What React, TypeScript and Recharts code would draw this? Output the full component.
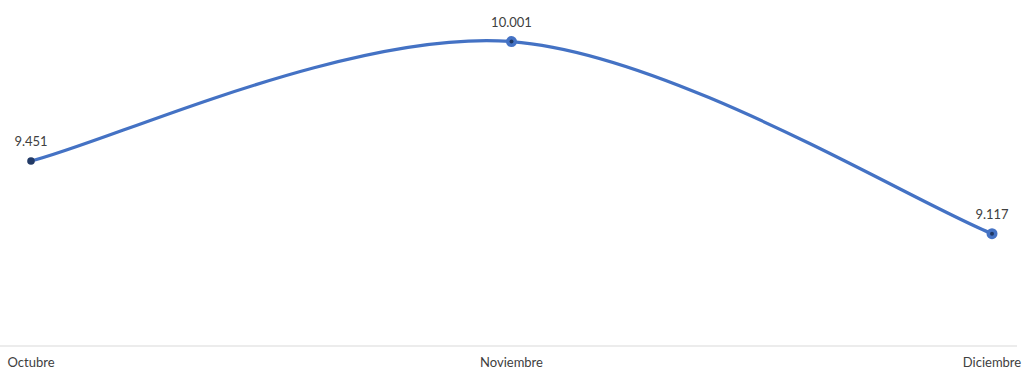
import React from 'react';
import { LineChart, Line, XAxis, YAxis, LabelList } from 'recharts';

const months = ['Octubre', 'Noviembre', 'Diciembre'];
const values = [9.451, 10.001, 9.117];
const valueLabels = ['9.451', '10.001', '9.117'];

const data = months.map((m, i) => ({ month: m, value: values[i], label: valueLabels[i] }));

const BLUE = '#4472C4';
const DARK = '#1F3864';

// Excel-like smoothed line (Catmull-Rom style Bezier, endpoints duplicated)
const excelCurve = (context: any) => {
  let pts: number[][] = [];
  return {
    areaStart() {},
    areaEnd() {},
    lineStart() {
      pts = [];
    },
    point(x: number, y: number) {
      pts.push([+x, +y]);
    },
    lineEnd() {
      const n = pts.length;
      if (!n) return;
      context.moveTo(pts[0][0], pts[0][1]);
      for (let i = 0; i < n - 1; i++) {
        const p0 = pts[Math.max(i - 1, 0)];
        const p1 = pts[i];
        const p2 = pts[i + 1];
        const p3 = pts[Math.min(i + 2, n - 1)];
        const c1x = p1[0] + (p2[0] - p0[0]) / 6;
        const c1y = p1[1] + (p2[1] - p0[1]) / 6;
        const c2x = p2[0] - (p3[0] - p1[0]) / 6;
        const c2y = p2[1] - (p3[1] - p1[1]) / 6;
        context.bezierCurveTo(c1x, c1y, c2x, c2y, p2[0], p2[1]);
      }
    },
  };
};

const Dot = (props: any) => {
  const { cx, cy, index } = props;
  if (cx == null || cy == null) return null;
  if (index === 0) {
    return <circle cx={cx} cy={cy} r={3.8} fill="#223A66" stroke="none" />;
  }
  return (
    <g>
      <circle cx={cx} cy={cy} r={5.5} fill={BLUE} stroke="none" />
      <circle cx={cx} cy={cy} r={2} fill={DARK} stroke="none" />
    </g>
  );
};

const ValueLabel = (props: any) => {
  const { x, y, value } = props;
  return (
    <text x={x} y={y - 15} textAnchor="middle" fontSize={13} fill="#404040" fontFamily="Lato, 'Open Sans', sans-serif">
      {value}
    </text>
  );
};

export default function App() {
  return (
    <div style={{ position: 'absolute', left: 0, top: 0, width: 1025, height: 371, background: '#fff' }}>
      <LineChart width={1025} height={371} data={data} margin={{ top: 7, right: 8, bottom: 0, left: 0 }}>
        <XAxis
          dataKey="month"
          height={25}
          padding={{ left: 31, right: 25 }}
          axisLine={{ stroke: '#D9D9D9', strokeWidth: 1 }}
          tickLine={false}
          tick={{ fontSize: 13, fill: '#404040', fontFamily: "Lato, 'Open Sans', sans-serif" }}
          tickMargin={6}
          interval={0}
        />
        <YAxis hide domain={[8.6, 10.16]} />
        <Line
          type={excelCurve as any}
          dataKey="value"
          stroke={BLUE}
          strokeWidth={3.2}
          dot={<Dot />}
          activeDot={false}
          isAnimationActive={false}
        >
          <LabelList dataKey="label" content={<ValueLabel />} />
        </Line>
      </LineChart>
    </div>
  );
}
